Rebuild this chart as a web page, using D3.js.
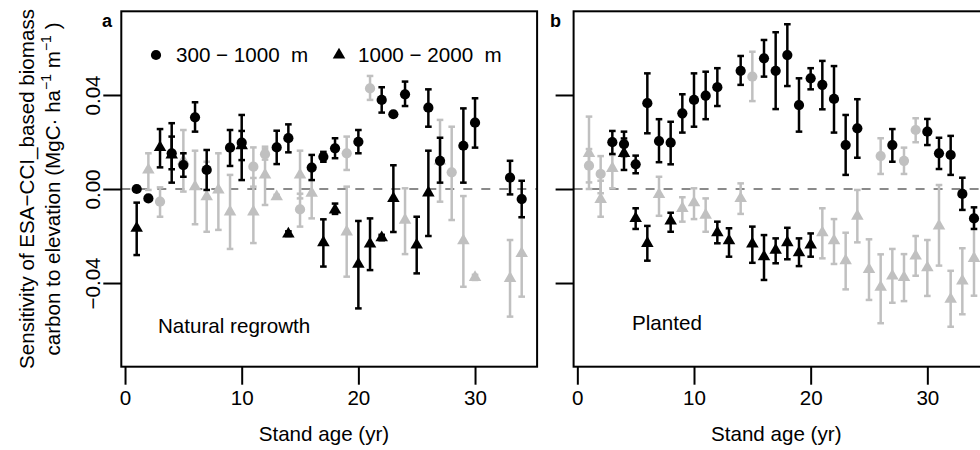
<!DOCTYPE html>
<html>
<head>
<meta charset="utf-8">
<script src="https://cdn.jsdelivr.net/npm/d3@7"></script>
<style>
  body { margin: 0; background: #fff; }
  text { font-family: "Liberation Sans", Arial, Helvetica, sans-serif; }
</style>
</head>
<body>
<div id="chart"></div>
<script>
// Sensibilité du carbone (ESA-CCI) à l'altitude, par âge du peuplement.
// Deux panneaux : régénération naturelle (a) et plantations (b).

const ageTicks = [0, 10, 20, 30]
const sensTicks = [-0.04, 0, 0.04]
const sensTickLabels = ["−0.04", "0.00", "0.04"]
const bandLabels = ["300 − 1000  m", "1000 − 2000  m"]

// [âge, moyenne, borne haute, borne basse, significatif (1 = noir, 0 = gris)]
const naturalLow = [
  [1, 0.0000, null, null, 1], [2, -0.0040, null, null, 1],
  [3, -0.0054, 0.0007, -0.0118, 0], [4, 0.0152, 0.0280, 0.0027, 1],
  [5, 0.0102, 0.0152, 0.0052, 1], [6, 0.0305, 0.0369, 0.0244, 1],
  [7, 0.0081, 0.0166, -0.0004, 1], [9, 0.0176, 0.0251, 0.0098, 1],
  [10, 0.0197, 0.0315, 0.0038, 1], [11, 0.0095, 0.0177, 0.0010, 0],
  [12, 0.0148, 0.0170, 0.0125, 0], [13, 0.0177, 0.0248, 0.0106, 1],
  [14, 0.0216, 0.0275, 0.0156, 1], [15, -0.0087, -0.0020, -0.0160, 0],
  [16, 0.0091, 0.0145, 0.0038, 1], [17, 0.0137, 0.0158, 0.0116, 1],
  [18, 0.0173, 0.0216, 0.0131, 1], [19, 0.0152, 0.0223, 0.0081, 0],
  [20, 0.0201, 0.0251, 0.0152, 1], [21, 0.0428, 0.0481, 0.0379, 0],
  [22, 0.0379, 0.0433, 0.0325, 1], [23, 0.0318, null, null, 1],
  [24, 0.0403, 0.0457, 0.0353, 1], [26, 0.0346, 0.0424, 0.0265, 1],
  [27, 0.0120, 0.0218, 0.0027, 1], [28, 0.0071, 0.0265, -0.0132, 0],
  [29, 0.0184, 0.0343, 0.0027, 1], [30, 0.0282, 0.0386, 0.0176, 1],
  [33, 0.0048, 0.0120, -0.0023, 1], [34, -0.0043, 0.0035, -0.0120, 1],
]

const naturalHigh = [
  [1, -0.0167, -0.0058, -0.0281, 1], [2, 0.0081, 0.0152, -0.0004, 0],
  [3, 0.0177, 0.0255, 0.0092, 1], [4, 0.0145, 0.0223, 0.0084, 1],
  [5, 0.0120, 0.0251, -0.0011, 0], [6, 0.0010, 0.0163, -0.0150, 0],
  [7, -0.0033, 0.0116, -0.0182, 0], [8, -0.0004, 0.0152, -0.0174, 0],
  [9, -0.0097, 0.0060, -0.0255, 0], [10, 0.0185, 0.0247, 0.0123, 1],
  [11, -0.0097, 0.0047, -0.0230, 0], [12, 0.0060, 0.0180, -0.0068, 0],
  [13, -0.0033, -0.0025, -0.0041, 0], [14, -0.0191, -0.0180, -0.0200, 1],
  [15, 0.0060, 0.0163, -0.0040, 0], [16, -0.0018, 0.0090, -0.0125, 0],
  [17, -0.0228, -0.0129, -0.0330, 1], [18, -0.0089, -0.0062, -0.0106, 1],
  [19, -0.0182, 0.0010, -0.0373, 0], [20, -0.0320, -0.0136, -0.0508, 1],
  [21, -0.0234, -0.0125, -0.0345, 1], [22, -0.0207, -0.0195, -0.0218, 1],
  [23, -0.0040, 0.0101, -0.0183, 1], [24, -0.0132, 0.0003, -0.0277, 0],
  [25, -0.0238, -0.0118, -0.0359, 1], [26, -0.0016, 0.0163, -0.0200, 1],
  [27, 0.0120, 0.0294, -0.0054, 0], [29, -0.0220, -0.0030, -0.0416, 0],
  [30, -0.0376, -0.0365, -0.0387, 0], [33, -0.0380, -0.0217, -0.0543, 0],
  [34, -0.0274, -0.0120, -0.0458, 0],
]

const plantedLow = [
  [1, 0.0099, 0.0170, 0.0028, 0], [2, 0.0064, 0.0140, -0.0018, 0],
  [3, 0.0199, 0.0247, 0.0149, 1], [4, 0.0191, 0.0244, 0.0140, 1],
  [5, 0.0105, 0.0142, 0.0067, 1], [6, 0.0365, 0.0492, 0.0237, 1],
  [7, 0.0204, 0.0297, 0.0114, 1], [8, 0.0197, 0.0286, 0.0105, 1],
  [9, 0.0322, 0.0403, 0.0240, 1], [10, 0.0379, 0.0492, 0.0265, 1],
  [11, 0.0397, 0.0499, 0.0297, 1], [12, 0.0433, 0.0514, 0.0353, 1],
  [14, 0.0503, 0.0566, 0.0443, 1], [15, 0.0478, 0.0584, 0.0374, 0],
  [16, 0.0556, 0.0634, 0.0478, 1], [17, 0.0503, 0.0667, 0.0340, 1],
  [18, 0.0570, 0.0701, 0.0438, 1], [19, 0.0357, 0.0471, 0.0244, 1],
  [20, 0.0471, 0.0514, 0.0424, 1], [21, 0.0443, 0.0545, 0.0339, 1],
  [22, 0.0383, 0.0523, 0.0240, 1], [23, 0.0187, 0.0315, 0.0060, 1],
  [24, 0.0258, 0.0382, 0.0133, 1], [26, 0.0140, 0.0216, 0.0064, 0],
  [27, 0.0187, 0.0255, 0.0116, 1], [28, 0.0120, 0.0176, 0.0064, 0],
  [29, 0.0251, 0.0301, 0.0199, 0], [30, 0.0244, 0.0298, 0.0187, 1],
  [31, 0.0152, 0.0218, 0.0085, 1], [32, 0.0145, 0.0226, 0.0060, 1],
  [33, -0.0021, 0.0048, -0.0089, 1], [34, -0.0125, -0.0078, -0.0170, 1],
]

const plantedHigh = [
  [1, 0.0152, 0.0308, 0.0000, 0], [2, -0.0044, 0.0035, -0.0118, 0],
  [3, 0.0088, 0.0145, 0.0003, 0], [4, 0.0152, 0.0215, 0.0081, 1],
  [5, -0.0125, -0.0082, -0.0170, 1], [6, -0.0231, -0.0157, -0.0305, 1],
  [7, -0.0023, 0.0052, -0.0114, 0], [8, -0.0136, -0.0101, -0.0182, 1],
  [9, -0.0082, -0.0035, -0.0139, 0], [10, -0.0058, 0.0003, -0.0128, 0],
  [11, -0.0111, -0.0040, -0.0182, 0], [12, -0.0186, -0.0139, -0.0231, 1],
  [13, -0.0220, -0.0167, -0.0288, 1], [14, -0.0040, 0.0024, -0.0106, 0],
  [15, -0.0234, -0.0160, -0.0314, 1], [16, -0.0288, -0.0196, -0.0387, 1],
  [17, -0.0260, -0.0210, -0.0316, 1], [18, -0.0228, -0.0165, -0.0299, 1],
  [19, -0.0271, -0.0210, -0.0328, 1], [20, -0.0238, -0.0189, -0.0288, 1],
  [21, -0.0186, -0.0082, -0.0295, 0], [22, -0.0220, -0.0128, -0.0319, 0],
  [23, -0.0305, -0.0186, -0.0427, 0], [24, -0.0115, -0.0004, -0.0227, 0],
  [25, -0.0342, -0.0214, -0.0472, 0], [26, -0.0418, -0.0278, -0.0571, 0],
  [27, -0.0370, -0.0255, -0.0484, 0], [28, -0.0376, -0.0277, -0.0477, 0],
  [29, -0.0285, -0.0200, -0.0369, 0], [30, -0.0335, -0.0217, -0.0455, 0],
  [31, -0.0157, 0.0017, -0.0326, 0], [32, -0.0469, -0.0348, -0.0586, 0],
  [33, -0.0391, -0.0252, -0.0533, 0], [34, -0.0295, -0.0122, -0.0454, 0],
]

const W = 980, H = 450
const BLACK = "#000", GREY = "#c0c0c0"
const FS = 20.6

const svg = d3.select("#chart").append("svg")
  .attr("width", W).attr("height", H)
  .style("background", "#fff")

// Domaine type R (étendu de 4 %)
const y = d3.scaleLinear().domain([-0.0756, 0.0756]).range([366.7, 11.3])

const panels = [
  { letter: "a", label: "Natural regrowth", low: naturalLow, high: naturalHigh,
    x0: 121.3, letterX: 102, labelX: 158, labelY: 333, yLabels: true, legend: true },
  { letter: "b", label: "Planted", low: plantedLow, high: plantedHigh,
    x0: 573.6, letterX: 550, labelX: 632, labelY: 330, yLabels: false, legend: false },
]

const circle = d3.symbol().type(d3.symbolCircle).size(82)
const tri = d3.symbol().type(d3.symbolTriangle).size(68)

panels.forEach((p) => {
  const x = d3.scaleLinear().domain([-0.32, 35.32]).range([p.x0, p.x0 + 415.8])
  const g = svg.append("g")

  // Ligne zéro
  g.append("line")
    .attr("x1", x(-0.32)).attr("x2", x(35.32))
    .attr("y1", y(0)).attr("y2", y(0))
    .attr("stroke", "#8a8a8a").attr("stroke-width", 2)
    .attr("stroke-dasharray", "9,9")

  // Points : gris d'abord, noir par-dessus ; triangles puis cercles
  const rows = []
  ;[0, 1].forEach((sig) => {
    p.high.filter((d) => d[4] === sig).forEach((d) => rows.push({ d, shape: tri, sig }))
    p.low.filter((d) => d[4] === sig).forEach((d) => rows.push({ d, shape: circle, sig }))
  })

  rows.forEach(({ d, shape, sig }) => {
    const col = sig ? BLACK : GREY
    const cx = x(d[0])
    if (d[2] != null) {
      const bar = g.append("g").attr("stroke", col).attr("stroke-width", 2.5)
      bar.append("line").attr("x1", cx).attr("x2", cx).attr("y1", y(d[2])).attr("y2", y(d[3]))
      ;[d[2], d[3]].forEach((v) => {
        bar.append("line").attr("x1", cx - 3.3).attr("x2", cx + 3.3)
          .attr("y1", y(v)).attr("y2", y(v))
      })
    }
    g.append("path")
      .attr("d", shape())
      .attr("transform", `translate(${cx},${y(d[1])})`)
      .attr("fill", col)
  })

  // Cadre
  g.append("rect")
    .attr("x", x(-0.32)).attr("y", y(0.0756))
    .attr("width", x(35.32) - x(-0.32)).attr("height", y(-0.0756) - y(0.0756))
    .attr("fill", "none").attr("stroke", "#000").attr("stroke-width", 2)

  // Axe des x
  const xAxis = d3.axisBottom(x).tickValues(ageTicks).tickSize(18).tickPadding(6)
  const gx = g.append("g").attr("transform", `translate(0,${y(-0.0756)})`).call(xAxis)
  gx.select(".domain").remove()
  gx.selectAll(".tick line").attr("stroke", "#000").attr("stroke-width", 2)
  gx.selectAll(".tick text").attr("font-size", FS).attr("fill", "#000")
    .attr("font-family", "Liberation Sans, Arial, sans-serif")

  g.append("text")
    .attr("x", x(17.05)).attr("y", 441)
    .attr("text-anchor", "middle").attr("font-size", FS)
    .text("Stand age (yr)")

  // Axe des y
  const yAxis = d3.axisLeft(y).tickValues(sensTicks).tickSize(18)
    .tickFormat((_, i) => (p.yLabels ? sensTickLabels[i] : ""))
  const gy = g.append("g").attr("transform", `translate(${x(-0.32)},0)`).call(yAxis)
  gy.select(".domain").remove()
  gy.selectAll(".tick line").attr("stroke", "#000").attr("stroke-width", 2)
  gy.selectAll(".tick text")
    .attr("font-size", FS).attr("fill", "#000")
    .attr("font-family", "Liberation Sans, Arial, sans-serif")
    .attr("x", null).attr("dy", null)
    .attr("text-anchor", "middle")
    .attr("transform", "translate(-21,0) rotate(-90)")

  // Lettre du panneau et étiquette
  g.append("text")
    .attr("x", p.letterX).attr("y", 27)
    .attr("font-size", 18).attr("font-weight", "bold")
    .text(p.letter)

  g.append("text")
    .attr("x", p.labelX).attr("y", p.labelY)
    .attr("font-size", FS)
    .text(p.label)

  if (p.legend) {
    g.append("path").attr("d", circle()).attr("transform", "translate(156,55)").attr("fill", "#000")
    g.append("text").attr("x", 176).attr("y", 62).attr("font-size", FS)
      .style("white-space", "pre").text(bandLabels[0])
    g.append("path").attr("d", tri()).attr("transform", "translate(339,55)").attr("fill", "#000")
    g.append("text").attr("x", 358).attr("y", 62).attr("font-size", FS)
      .style("white-space", "pre").text(bandLabels[1])
  }
})

// Titre de l'axe y (deux lignes)
const cy = (y(0.0756) + y(-0.0756)) / 2
svg.append("text")
  .attr("transform", `translate(34,${cy}) rotate(-90)`)
  .attr("text-anchor", "middle").attr("font-size", FS)
  .text("Sensitivity of ESA−CCI_based biomass")

const t2 = svg.append("text")
  .attr("transform", `translate(60,${cy}) rotate(-90)`)
  .attr("text-anchor", "middle").attr("font-size", FS)
  .style("white-space", "pre")
t2.append("tspan").text("carbon to elevation (MgC· ha")
t2.append("tspan").attr("dy", -9).attr("font-size", 14).text("−1")
t2.append("tspan").attr("dy", 9).text(" m")
t2.append("tspan").attr("dy", -9).attr("font-size", 14).text("−1")
t2.append("tspan").attr("dy", 9).text(" )")
</script>
</body>
</html>
